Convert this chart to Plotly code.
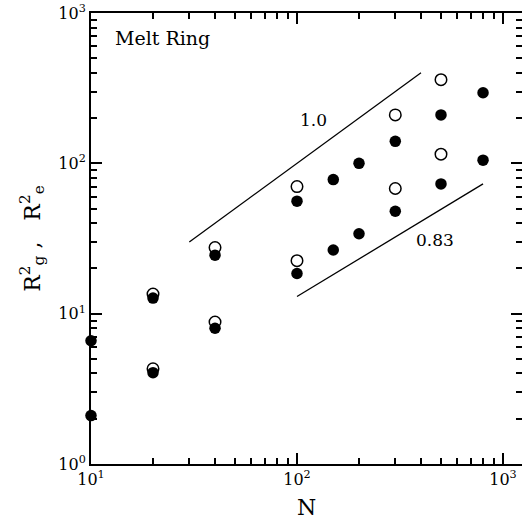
import plotly.graph_objects as go
import numpy as np

# Filled circles
N_filled = [10, 10, 20, 20, 40, 40, 100, 100, 150, 150, 200, 200, 300, 300, 500, 500, 800, 800]
R_filled = [6.6, 2.1, 12.7, 4.05, 24.5, 8.0, 56, 18.5, 78, 26.5, 100, 34, 140, 48, 210, 73, 295, 105]

# Open circles
N_open = [20, 20, 40, 40, 100, 100, 300, 300, 500, 500]
R_open = [13.5, 4.3, 27.5, 8.8, 70, 22.5, 210, 68, 360, 115]

# Guide lines (slopes 1.0 and 0.83)
line1_N = [30, 400]
line1_R = [30, 400]
line2_N = [100, 800]
line2_R = [13, 13 * 8 ** 0.83]

x_tickvals = [10, 100, 1000]
x_ticktext = ["10<sup>1</sup>", "10<sup>2</sup>", "10<sup>3</sup>"]
y_tickvals = [1, 10, 100, 1000]
y_ticktext = ["10<sup>0</sup>", "10<sup>1</sup>", "10<sup>2</sup>", "10<sup>3</sup>"]

FONT = "DejaVu Serif"

fig = go.Figure()
fig.add_trace(go.Scatter(x=line1_N, y=line1_R, mode="lines",
                         line=dict(color="black", width=1.3), showlegend=False))
fig.add_trace(go.Scatter(x=line2_N, y=line2_R, mode="lines",
                         line=dict(color="black", width=1.3), showlegend=False))
fig.add_trace(go.Scatter(x=N_open, y=R_open, mode="markers", cliponaxis=False,
                         marker=dict(symbol="circle-open", size=11.5, color="black",
                                     line=dict(width=1.5, color="black")),
                         showlegend=False))
fig.add_trace(go.Scatter(x=N_filled, y=R_filled, mode="markers", cliponaxis=False,
                         marker=dict(symbol="circle", size=11.5, color="black"),
                         showlegend=False))
fig.add_trace(go.Scatter(x=[10], y=[10], yaxis="y2", mode="markers",
                         marker=dict(opacity=0), showlegend=False, hoverinfo="skip"))

xr = [1, 1 + (522 - 91) / 206.0]
yr = [0, 3]

minor = dict(ticks="inside", ticklen=6, tickwidth=1.5, tickcolor="black",
             dtick="D1", showgrid=False)

fig.update_layout(
    width=522, height=525,
    margin=dict(l=91, r=0, t=13, b=61),
    paper_bgcolor="white", plot_bgcolor="white",
    font=dict(family=FONT, color="black"),
    xaxis=dict(type="log", range=xr, tickmode="array", tickvals=x_tickvals, ticktext=x_ticktext,
               showgrid=False, zeroline=False,
               showline=True, linecolor="black", linewidth=2,
               mirror="ticks", ticks="inside", ticklen=11, tickwidth=1.5, tickcolor="black",
               minor=minor,
               tickfont=dict(size=16, family=FONT),
               title=dict(text="N", font=dict(size=22, family=FONT), standoff=11)),
    yaxis=dict(type="log", range=yr, tickmode="array", tickvals=y_tickvals, ticktext=y_ticktext,
               showgrid=False, zeroline=False,
               showline=True, linecolor="black", linewidth=2,
               mirror=False, ticks="inside", ticklen=11, tickwidth=1.5, tickcolor="black",
               minor=minor,
               tickfont=dict(size=16, family=FONT),
               title=dict(text="R<sup>2</sup><sub>g</sub> ,   R<sup>2</sup><sub>e</sub>",
                          font=dict(size=22, family=FONT), standoff=12)),
    yaxis2=dict(type="log", range=yr, tickmode="array", tickvals=y_tickvals,
                overlaying="y", side="right",
                showgrid=False, zeroline=False, showline=False,
                showticklabels=False, ticks="inside", ticklen=11, tickwidth=1.5,
                tickcolor="black", minor=minor),
    annotations=[
        dict(text="Melt Ring", x=0.05, y=0.945, xref="paper", yref="paper",
             xanchor="left", yanchor="middle", showarrow=False,
             font=dict(size=19, family=FONT)),
        dict(text="1.0", x=np.log10(120), y=np.log10(194), xref="x", yref="y",
             showarrow=False, font=dict(size=17, family=FONT)),
        dict(text="0.83", x=np.log10(470), y=np.log10(31), xref="x", yref="y",
             showarrow=False, font=dict(size=17, family=FONT)),
    ],
)

fig.write_html("out.html")
